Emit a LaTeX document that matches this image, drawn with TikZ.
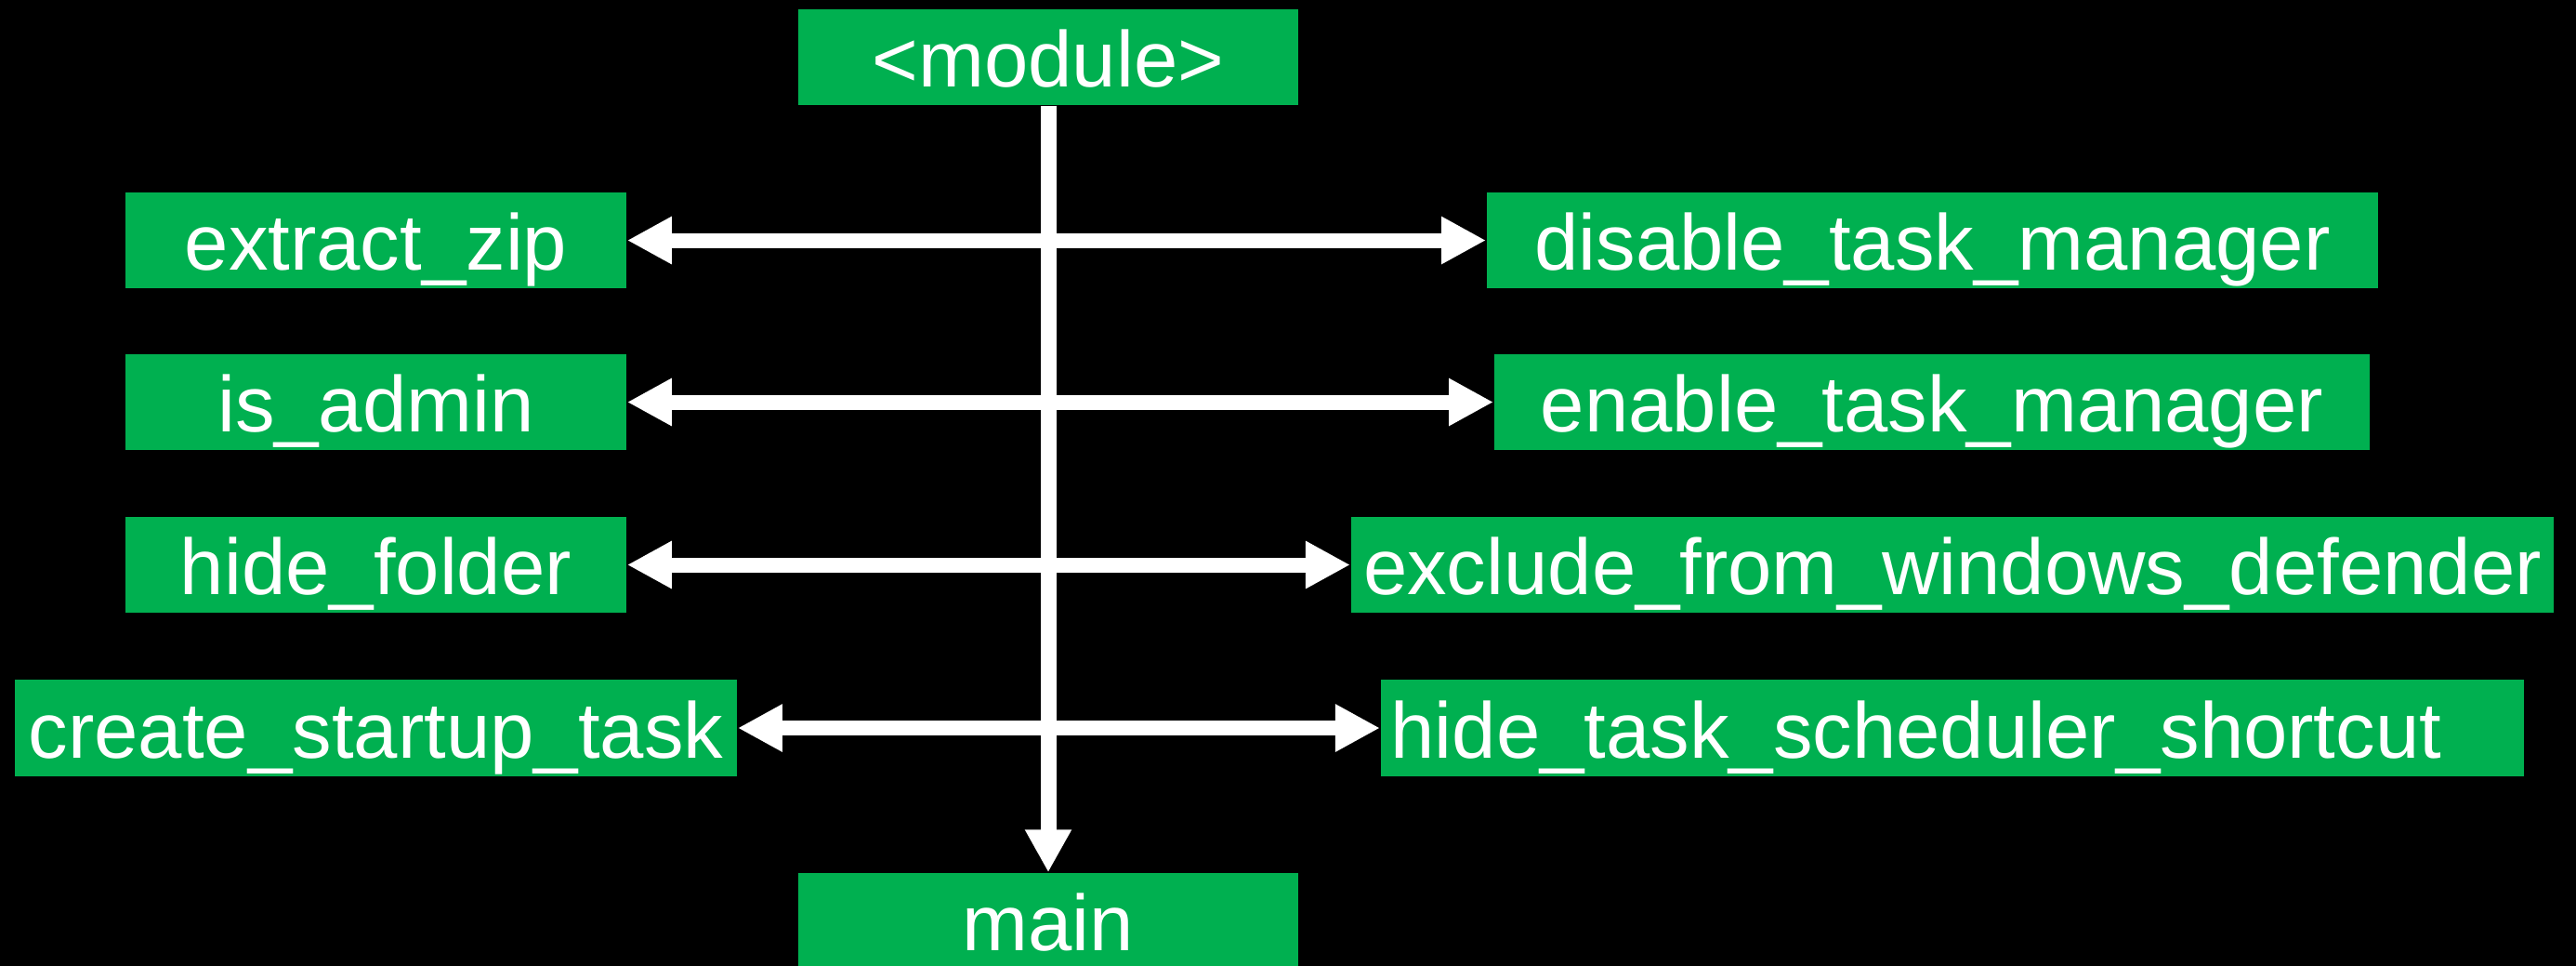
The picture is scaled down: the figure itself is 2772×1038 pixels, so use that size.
\documentclass[tikz,border=0pt]{standalone}
\usepackage{fontspec}
\setmainfont{Liberation Sans}
\usetikzlibrary{arrows.meta}
\definecolor{boxgreen}{RGB}{0,176,80}
\tikzset{
  box/.style={fill=boxgreen, text=white, inner sep=0pt, minimum height=1.03cm,
    text height=0.835cm, text depth=0.195cm,
    font=\fontsize{24.2pt}{29pt}\selectfont},
  link/.style={draw=white, line width=0.16cm, {Triangle[length=0.48cm,width=0.48cm]}-{Triangle[length=0.48cm,width=0.48cm]}},
  flow/.style={draw=white, line width=0.17cm, -{Triangle[length=0.46cm,width=0.47cm]}}
}
\begin{document}
\begin{tikzpicture}[x=0.01cm, y=-0.01cm]
\useasboundingbox (0,0) rectangle (2772,1038);
\clip (-10,-10) rectangle (2782,1048);
\fill[black] (-10,-10) rectangle (2782,1048);

\node[box, minimum width=5.38cm] (module) at (1128,61.5) {<module>};
\node[box, minimum width=5.38cm] (main) at (1128,990.5) {main};

\node[box, minimum width=5.39cm] (extract) at (404.5,258.5) {extract\_zip};
\node[box, minimum width=5.39cm] (isadmin) at (404.5,432.5) {is\_admin};
\node[box, minimum width=5.39cm] (hidefolder) at (404.5,607.5) {hide\_folder};
\node[box, minimum width=7.77cm] (create) at (404.5,783) {create\_startup\_task};

\node[box, minimum width=9.59cm] (disable) at (2079.5,258.5) {disable\_task\_manager};
\node[box, minimum width=9.42cm] (enable) at (2079,432.5) {enable\_task\_manager};
\node[box, minimum width=12.94cm] (exclude) at (2101,607.5) {exclude\_from\_windows\_defender};
\node[box, minimum width=12.30cm] (hidetask) at (2101,783) {\hspace{0.11cm}\makebox[12.19cm][l]{hide\_task\_scheduler\_shortcut}};

\draw[flow] (module.south) -- (main.north);

\draw[link] (extract.east) -- (disable.west);
\draw[link] (isadmin.east) -- (enable.west);
\draw[link] (hidefolder.east) -- (exclude.west);
\draw[link] (create.east) -- (create.east -| hidetask.west);
\end{tikzpicture}
\end{document}
